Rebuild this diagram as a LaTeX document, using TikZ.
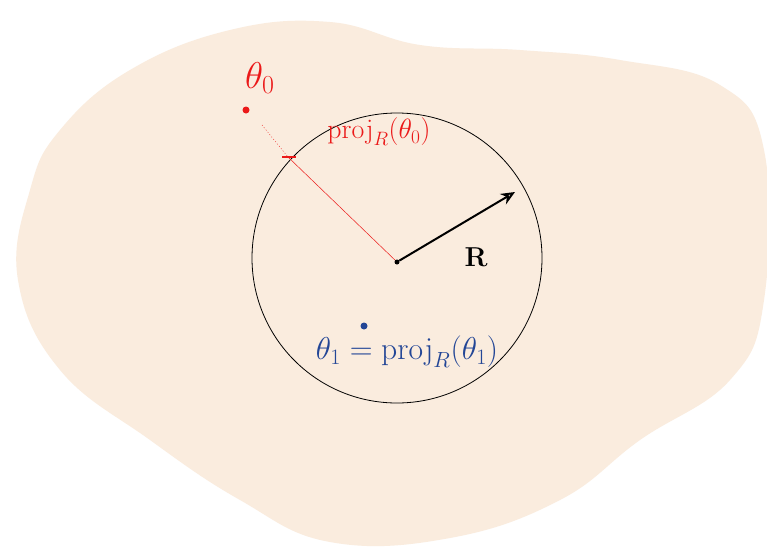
\documentclass[tikz,border=0pt]{standalone}
\usetikzlibrary{arrows.meta,calc}
\definecolor{peach}{RGB}{250,236,222}
\definecolor{hred}{RGB}{235,25,25}
\definecolor{hblue}{RGB}{35,70,150}
\begin{document}
\begin{tikzpicture}[x=1pt,y=-1pt,
  lbl/.style={inner sep=1pt,font=\fontsize{24}{28}\selectfont},
  dotpt/.style={circle,fill,inner sep=0pt,minimum size=7pt}]
\useasboundingbox (0,0) rectangle (767,552);
\fill[white] (0,0) rectangle (767,552);
\fill[peach] plot[smooth cycle,tension=0.7] coordinates {(60,130) (130,70) (230,30) (330,22) (420,45) (520,50) (620,60) (720,85) (764,150) (764,300) (730,380) (640,440) (560,500) (450,538) (330,542) (240,500) (150,440) (60,370) (18,280) (30,190)};
% circle
\coordinate (c) at (397,258);
\draw[line width=0.8pt] (c) circle[radius=145];
% centre dot
\node[dotpt,minimum size=5pt] (o) at (397,262) {};
% theta_0
\node[dotpt,hred] (t0) at (246,110) {};
\node[lbl,text=hred,scale=1.5] (t0l) at (260,78) {$\theta_0$};
\coordinate (x0) at (288,157);
\draw[hred,line width=0.4pt,dash pattern=on 1pt off 2pt] (262,125) -- (x0);
\draw[hred,line width=0.5pt] (x0) -- (o);
\draw[hred,line width=2pt] ($(x0)+(-6,0)$) -- ++(14,0);
\node[lbl,text=hred,scale=1.12] (p0) at (379,132) {$\mathrm{proj}_R(\theta_0)$};
% radius arrow
\coordinate (r) at (515,192);
\draw[line width=2pt,-{Stealth[length=14pt,width=12pt,open]}] (o) -- (r);
\node[lbl,scale=1.1] (rl) at (476,257) {$\mathbf{R}$};
% theta_1
\node[dotpt,hblue] (t1) at (364,326) {};
\node[lbl,text=hblue,scale=1.27] (p1) at (407,352) {$\theta_1=\mathrm{proj}_R(\theta_1)$};
\end{tikzpicture}
\end{document}
